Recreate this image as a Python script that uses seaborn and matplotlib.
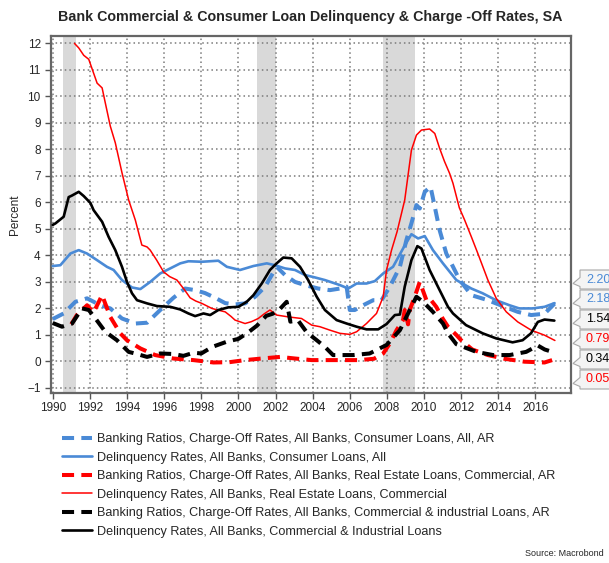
import numpy as np
import pandas as pd
import matplotlib
matplotlib.use("Agg")
import matplotlib.pyplot as plt
import seaborn as sns
from matplotlib.lines import Line2D
from matplotlib.patches import Polygon

# ---------------- data ----------------
title = "Bank Commercial & Consumer Loan Delinquency & Charge -Off Rates, SA"

cons_co_years = [1990.0, 1990.59, 1991.22, 1991.85, 1992.56, 1993.1, 1993.73, 1994.45, 1995.08, 1995.79,
                 1996.5, 1997.13, 1997.67, 1998.2, 1998.75, 1999.29, 1999.82, 2000.36, 2000.9, 2001.44,
                 2001.8, 2002.06, 2002.51, 2003.05, 2003.59, 2004.3, 2004.93, 2005.47, 2005.83, 2006.0,
                 2006.27, 2006.72, 2007.26, 2007.71, 2008.16, 2008.7, 2009.05, 2009.32, 2009.59, 2009.77,
                 2010.04, 2010.35, 2010.58, 2010.84, 2011.2, 2011.47, 2011.92, 2012.55, 2013.44, 2014.34,
                 2015.05, 2015.77, 2016.49, 2017.03]
cons_co_vals = [1.6, 1.81, 2.25, 2.38, 2.12, 2.0, 1.62, 1.43, 1.46, 1.94,
                2.4, 2.75, 2.69, 2.58, 2.4, 2.2, 2.15, 2.19, 2.44, 2.82,
                3.26, 3.57, 3.26, 3.0, 2.88, 2.75, 2.69, 2.75, 2.82, 1.94,
                1.94, 2.12, 2.31, 2.31, 2.82, 3.57, 4.58, 5.21, 5.9, 5.77,
                6.4, 6.59, 5.83, 4.95, 4.07, 3.7, 3.07, 2.5, 2.31, 2.06,
                1.87, 1.75, 1.8, 2.18]

cons_dq_years = [1990.0, 1990.41, 1990.95, 1991.4, 1991.85, 1992.39, 1992.92, 1993.28, 1993.73, 1994.27,
                 1994.72, 1995.25, 1995.79, 1996.33, 1996.87, 1997.31, 1998.03, 1998.92, 1999.38, 2000.09,
                 2000.81, 2001.53, 2001.97, 2002.51, 2003.05, 2003.59, 2004.12, 2004.66, 2005.47, 2005.92,
                 2006.37, 2006.9, 2007.35, 2007.8, 2008.33, 2008.87, 2009.32, 2009.68, 2010.04, 2010.48,
                 2011.02, 2011.74, 2012.55, 2013.16, 2013.88, 2014.6, 2015.13, 2015.85, 2016.49, 2017.03]
cons_dq_vals = [3.6, 3.63, 4.07, 4.2, 4.07, 3.82, 3.57, 3.45, 3.07, 2.79,
                2.73, 3.0, 3.32, 3.51, 3.7, 3.78, 3.76, 3.8, 3.57, 3.45,
                3.6, 3.7, 3.63, 3.51, 3.45, 3.26, 3.17, 3.07, 2.88, 2.75,
                2.94, 2.94, 3.03, 3.32, 3.57, 4.26, 4.8, 4.64, 4.73, 4.2,
                3.7, 3.07, 2.75, 2.57, 2.31, 2.12, 2.0, 2.0, 2.06, 2.20]

cre_co_years = [1991.0, 1991.3, 1991.85, 1992.2, 1992.66, 1993.1, 1993.64, 1994.0, 1994.72, 1995.52,
                1996.5, 1997.58, 1998.66, 1999.5, 2000.36, 2001.26, 2002.24, 2003.05, 2003.95, 2004.66,
                2005.5, 2006.5, 2007.3, 2007.8, 2008.16, 2008.52, 2008.87, 2008.96, 2009.14, 2009.23,
                2009.5, 2009.77, 2010.13, 2010.3, 2010.66, 2011.02, 2011.3, 2011.74, 2012.0, 2012.6,
                2013.44, 2014.34, 2015.41, 2016.49, 2016.9]
cre_co_vals = [1.4, 1.75, 2.12, 1.85, 2.5, 1.68, 1.06, 0.8, 0.49, 0.24,
               0.11, 0.05, -0.04, -0.03, 0.05, 0.11, 0.17, 0.11, 0.05, 0.05,
               0.05, 0.05, 0.1, 0.3, 0.68, 1.18, 1.56, 1.94, 1.4, 1.94,
               2.44, 3.0, 2.31, 2.38, 2.06, 1.6, 1.3, 1.0, 0.8, 0.45,
               0.24, 0.1, -0.01, -0.04, 0.05]

cre_dq_years = [1991.17, 1991.4, 1991.67, 1991.94, 1992.39, 1992.66, 1992.83, 1993.1, 1993.37, 1993.73,
                1994.09, 1994.45, 1994.8, 1995.08, 1995.25, 1995.6, 1995.97, 1996.3, 1996.69, 1997.1,
                1997.4, 1997.7, 1998.03, 1998.57, 1999.0, 1999.29, 1999.6, 1999.82, 2000.36, 2000.7,
                2001.07, 2001.4, 2001.7, 2002.06, 2002.69, 2003.4, 2003.95, 2004.39, 2004.93, 2005.47,
                2006.0, 2006.37, 2006.9, 2007.44, 2007.8, 2007.98, 2008.25, 2008.55, 2008.96, 2009.32,
                2009.59, 2009.86, 2010.3, 2010.58, 2010.84, 2011.1, 2011.38, 2011.56, 2011.9, 2012.19,
                2012.55, 2012.9, 2013.44, 2013.89, 2014.43, 2015.05, 2015.77, 2016.49, 2017.05]
cre_dq_vals = [12.0, 11.83, 11.55, 11.4, 10.5, 10.32, 9.76, 8.88, 8.25, 7.12,
               6.09, 5.33, 4.39, 4.32, 4.2, 3.82, 3.38, 3.2, 3.07, 2.7,
               2.4, 2.28, 2.19, 2.0, 1.92, 1.87, 1.7, 1.56, 1.43, 1.5,
               1.62, 1.8, 1.94, 1.75, 1.68, 1.62, 1.37, 1.31, 1.18, 1.06,
               1.02, 1.12, 1.43, 1.81, 2.44, 3.45, 4.2, 4.9, 6.09, 7.97,
               8.54, 8.73, 8.77, 8.6, 8.04, 7.55, 7.09, 6.72, 5.8, 5.33,
               4.7, 4.07, 3.07, 2.38, 1.87, 1.49, 1.18, 0.99, 0.79]

ci_co_years = [1990.0, 1990.5, 1991.04, 1991.58, 1991.94, 1992.3, 1992.83, 1993.46, 1994.09, 1994.54,
               1995.08, 1995.79, 1996.5, 1997.04, 1997.6, 1998.0, 1998.6, 1999.4, 2000.0, 2000.54,
               2001.0, 2001.5, 2001.85, 2002.2, 2002.6, 2002.8, 2003.2, 2003.68, 2004.22, 2004.66,
               2005.1, 2006.18, 2007.07, 2007.98, 2008.7, 2009.23, 2009.59, 2009.95, 2010.48, 2011.02,
               2011.29, 2011.74, 2012.82, 2013.72, 2014.61, 2015.5, 2016.13, 2016.5, 2017.0]
ci_co_vals = [1.45, 1.31, 1.43, 2.0, 1.94, 1.62, 1.12, 0.8, 0.36, 0.28,
              0.17, 0.3, 0.28, 0.21, 0.33, 0.3, 0.55, 0.75, 0.85, 1.1,
              1.35, 1.72, 1.8, 1.95, 2.25, 1.5, 1.56, 1.1, 0.8, 0.55,
              0.24, 0.24, 0.3, 0.62, 1.18, 1.94, 2.44, 2.25, 1.87, 1.43,
              1.06, 0.65, 0.36, 0.24, 0.24, 0.36, 0.6, 0.45, 0.34]

ci_dq_years = [1990.0, 1990.15, 1990.59, 1990.86, 1991.04, 1991.4, 1991.67, 1992.03, 1992.2, 1992.66,
               1993.01, 1993.37, 1993.73, 1994.0, 1994.27, 1994.54, 1995.08, 1995.61, 1996.33, 1996.87,
               1997.31, 1997.67, 1998.12, 1998.48, 1998.92, 1999.46, 2000.0, 2000.45, 2000.81, 2001.26,
               2001.7, 2002.06, 2002.42, 2002.87, 2003.32, 2003.76, 2004.22, 2004.66, 2005.29, 2005.83,
               2006.37, 2006.9, 2007.53, 2007.98, 2008.43, 2008.7, 2008.96, 2009.32, 2009.64, 2009.86,
               2010.3, 2010.84, 2011.29, 2011.56, 2012.26, 2013.16, 2013.88, 2014.77, 2015.31, 2015.76,
               2016.13, 2016.49, 2017.02]
ci_dq_vals = [5.15, 5.21, 5.46, 6.2, 6.26, 6.4, 6.24, 5.98, 5.71, 5.27,
              4.7, 4.2, 3.57, 3.0, 2.57, 2.31, 2.19, 2.09, 2.06, 1.96,
              1.81, 1.71, 1.81, 1.75, 1.94, 2.04, 2.06, 2.25, 2.5, 2.94,
              3.45, 3.7, 3.92, 3.89, 3.57, 3.07, 2.44, 1.94, 1.56, 1.43,
              1.31, 1.21, 1.21, 1.41, 1.75, 1.77, 2.82, 3.82, 4.35, 4.26,
              3.45, 2.69, 2.06, 1.81, 1.37, 1.06, 0.87, 0.72, 0.8, 1.06,
              1.49, 1.58, 1.54]

recession_start = [1990.55, 2001.0, 2007.8]
recession_end = [1991.25, 2002.0, 2009.5]

series_labels = [
    "Banking Ratios, Charge-Off Rates, All Banks, Consumer Loans, All, AR",
    "Delinquency Rates, All Banks, Consumer Loans, All",
    "Banking Ratios, Charge-Off Rates, All Banks, Real Estate Loans, Commercial, AR",
    "Delinquency Rates, All Banks, Real Estate Loans, Commercial",
    "Banking Ratios, Charge-Off Rates, All Banks, Commercial & industrial Loans, AR",
    "Delinquency Rates, All Banks, Commercial & Industrial Loans",
]
x_ticks = list(range(1990, 2017, 2))
y_ticks = list(range(-1, 13))

# ---------------- style ----------------
BLUE = "#4a8ad6"
RED = "#ff0000"
BLACK = "#000000"
W, H = 609, 563

sns.set_style("white")
plt.rcParams["font.family"] = ["Liberation Sans", "DejaVu Sans"]

fig = plt.figure(figsize=(W / 100, H / 100), dpi=100)
ax = fig.add_axes([50.5 / W, 1 - 392.7 / H, (570.7 - 50.5) / W, (392.7 - 35.7) / H])

series = [
    (cons_co_years, cons_co_vals, BLUE, 2.9, True),
    (cons_dq_years, cons_dq_vals, BLUE, 1.9, False),
    (cre_co_years, cre_co_vals, RED, 2.9, True),
    (cre_dq_years, cre_dq_vals, RED, 1.1, False),
    (ci_co_years, ci_co_vals, BLACK, 2.9, True),
    (ci_dq_years, ci_dq_vals, BLACK, 1.9, False),
]
DASH = (3.0, 1.8)

for yrs, vals, col, lw, dashed in series:
    df = pd.DataFrame({"year": yrs, "value": vals})
    n_before = len(ax.lines)
    sns.lineplot(data=df, x="year", y="value", ax=ax, color=col, linewidth=lw,
                 estimator=None, sort=True, legend=False)
    ln = ax.lines[n_before]
    ln.set_zorder(3)
    if dashed:
        ln.set_dashes(DASH)
        ln.set_dash_capstyle("butt")

for s, e in zip(recession_start, recession_end):
    ax.axvspan(s, e, color="#d9d9d9", zorder=0.2, lw=0)

ax.set_xlim(1989.88, 2017.9)
ax.set_ylim(-1.18, 12.29)
ax.set_xticks(x_ticks)
ax.set_yticks(y_ticks)
ax.set_xlabel("")
ax.set_ylabel("")
ax.tick_params(axis="both", which="major", labelsize=8.5, length=4, width=1,
               color="#555555", direction="out", pad=3)
ax.tick_params(axis="x", bottom=True)
ax.tick_params(axis="y", left=True)
ax.set_axisbelow(True)
ax.grid(True, linestyle=(0, (1, 2)), color="#7a7a7a", linewidth=1.1, zorder=0.5)
for sp in ax.spines.values():
    sp.set_color("#666666")
    sp.set_linewidth(1.6)
    sp.set_visible(True)

# right-side value tags (stacked, tag-shaped boxes)
label_order = [
    (cons_dq_vals[-1], BLUE),
    (cons_co_vals[-1], BLUE),
    (ci_dq_vals[-1], BLACK),
    (cre_dq_vals[-1], RED),
    (ci_co_vals[-1], BLACK),
    (cre_co_vals[-1], RED),
]
def fx(px):
    return px / W
def fy(py):
    return 1 - py / H

for i, (v, col) in enumerate(label_order):
    yc = 279.5 + 20.0 * i
    top, bot = yc - 9.5, yc + 9.5
    pts = [(580, top), (580, yc - 2), (573, yc + 4), (580, yc + 7), (580, bot), (615, bot), (615, top)]
    poly = Polygon([(fx(x), fy(y)) for x, y in pts], closed=True, transform=fig.transFigure,
                   fc="#f4f4f4", ec="#a8a8a8", lw=0.8, clip_on=False)
    fig.patches.append(poly)
    fig.text(fx(586), fy(yc), f"{v:.2f}", color=col, fontsize=9, va="center", ha="left")

# legend
handles = []
for yrs, vals, col, lw, dashed in series:
    if dashed:
        handles.append(Line2D([0], [0], color=col, lw=lw, dashes=DASH))
    else:
        handles.append(Line2D([0], [0], color=col, lw=lw))
fig.legend(handles, series_labels, loc="upper left", bbox_to_anchor=(62 / W, 1 - 433 / H),
           frameon=False, fontsize=9.1, handlelength=2.4, handletextpad=0.4,
           labelspacing=0.52, borderaxespad=0.0, borderpad=0.0)

fig.text(310 / W, 1 - 17 / H, title, ha="center", va="center", fontsize=10.3, fontweight="bold")
fig.text(15 / W, 1 - 215 / H, "Percent", rotation=90, ha="center", va="center", fontsize=8.5)
fig.text(604 / W, 1 - 554 / H, "Source: Macrobond", ha="right", va="center", fontsize=6.5)

fig.savefig("out.png", dpi=100)
